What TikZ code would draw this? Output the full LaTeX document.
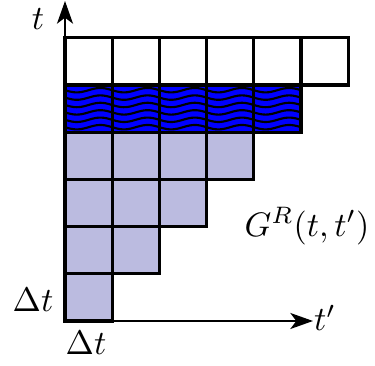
\documentclass[tikz,border=0pt]{standalone}
\usetikzlibrary{arrows.meta,calc}
\definecolor{lightpurple}{RGB}{187,187,224}
\definecolor{wavyblue}{RGB}{0,0,255}
\begin{document}
\begin{tikzpicture}[x=0.75pt,y=0.75pt,
  cellbox/.style={draw=black,line width=2.4pt},
  wave/.style={draw=black,line width=1.6pt},
  axis/.style={line width=1.6pt,-{Stealth[length=17pt,width=12pt,inset=4.5pt]}},
  lbl/.style={scale=2.55,inner sep=0pt}]
\useasboundingbox (0,0) rectangle (375,366);
\def\c{47.2}
\coordinate (O) at (65,45);
% light purple triangle rows
\foreach \r/\n in {0/1,1/2,2/3,3/4}{
  \foreach \i in {1,...,\n}{
    \fill[lightpurple] ($(O)+({(\i-1)*\c},{\r*\c})$) rectangle ++(\c,\c);
  }
}
% blue wavy row
\foreach \i in {0,...,4}{
  \begin{scope}
    \clip ($(O)+({\i*\c},{4*\c})$) rectangle ++(\c,\c);
    \fill[wavyblue] ($(O)+({\i*\c},{4*\c})$) rectangle ++(\c,\c);
    \foreach \k in {0,...,5}{
      \draw[wave] plot[domain=0:\c,samples=30,smooth]
        ({65+\i*\c+\x},{45+4*\c+5+\k*7.4-2.2*sin(7.627*\x)});
    }
  \end{scope}
}
% borders
\foreach \r/\n in {0/1,1/2,2/3,3/4,4/5,5/6}{
  \foreach \i in {1,...,\n}{
    \draw[cellbox] ($(O)+({(\i-1)*\c},{\r*\c})$) rectangle ++(\c,\c);
  }
}
% axes
\coordinate (ytip) at (65,365);
\coordinate (xtip) at (313,45);
\draw[axis] (O) -- (ytip);
\draw[axis] (O) -- (xtip);
% labels
\node[lbl] (tl) at (38,347) {$t$};
\node[lbl] (tpl) at (325,48) {$t'$};
\node[lbl] (dtl) at (33,66) {$\Delta t$};
\node[lbl] (dtb) at (86,23) {$\Delta t$};
\node[lbl] (gr) at (307,140) {$G^R(t,t')$};
\end{tikzpicture}
\end{document}
